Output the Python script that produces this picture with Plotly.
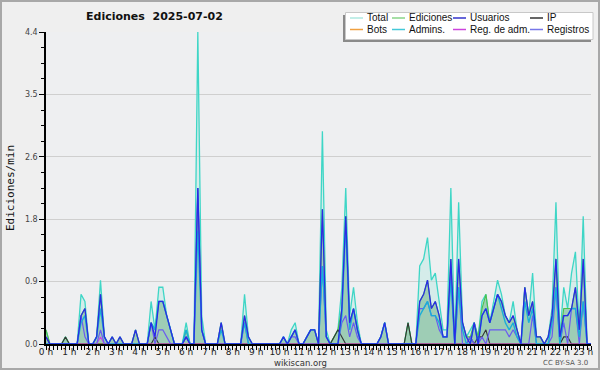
import plotly.graph_objects as go

# 10-minute buckets, values in edits/min
bucket_hours = [i / 6 for i in range(141)]

total = [0.2,0,0,0,0,0.1,0,0,0,0.7,0.6,0,
         0,0.1,0.9,0.1,0,0.1,0,0.1,0,0,0,0.2,
         0,0,0,0.6,0.2,0.8,0.8,0.4,0.2,0,0,0,
         0.3,0,0,4.4,0.4,0,0,0,0,0.3,0,0,
         0,0,0,0.7,0.1,0,0,0,0,0,0,0,
         0,0.1,0,0.2,0.3,0,0,0.1,0.2,0.2,0,3.0,
         0.2,0,0.1,0.2,0.8,2.2,0.4,0.8,0.3,0,0,0,
         0,0,0.1,0.3,0,0,0,0,0,0.3,0,0,
         1.1,1.2,1.5,0.9,1.0,0.6,0.2,0.2,2.2,0,2.0,0.3,
         0.1,0.2,0.3,0.1,0.6,0.7,0.3,0.6,0.9,0.7,0.4,0.3,
         0.6,0.2,0,0.8,0.4,1.0,0.1,0.1,0,0.1,0.5,2.0,
         0.1,0.8,0.5,1.0,1.3,0.2,1.8,0,0]

ediciones = [0.2,0,0,0,0,0.1,0,0,0,0.4,0.5,0,
             0,0.1,0.7,0.1,0,0.1,0,0.1,0,0,0,0.2,
             0,0,0,0.3,0.2,0.6,0.6,0.4,0.2,0,0,0,
             0.2,0,0,2.2,0.2,0,0,0,0,0.3,0,0,
             0,0,0,0.4,0.1,0,0,0,0,0,0,0,
             0,0.1,0,0.1,0.2,0,0,0.1,0.2,0.2,0,1.9,
             0.1,0,0.1,0.2,0.5,1.8,0.3,0.5,0.2,0,0,0,
             0,0,0.1,0.3,0,0,0,0,0,0.3,0,0,
             0.6,0.7,0.9,0.5,0.6,0.4,0.1,0.1,1.2,0,1.2,0.3,
             0.1,0.1,0.3,0.1,0.5,0.7,0.3,0.5,0.7,0.6,0.4,0.3,
             0.4,0.2,0,0.8,0.4,0.6,0.1,0.1,0,0.1,0.4,1.2,
             0.1,0.5,0.5,0.5,0.8,0.2,1.2,0,0]

usuarios = [0.1,0,0,0,0,0,0,0,0,0.4,0.5,0,
            0,0.1,0.7,0.1,0,0.1,0,0.1,0,0,0,0.2,
            0,0,0,0.3,0.1,0.6,0.6,0.4,0.2,0,0,0,
            0.1,0,0,2.2,0.2,0,0,0,0,0.3,0,0,
            0,0,0,0.4,0.1,0,0,0,0,0,0,0,
            0,0.1,0,0.1,0.2,0,0,0.1,0.2,0.2,0,1.9,
            0.1,0,0,0,0.5,1.8,0.3,0.5,0.2,0,0,0,
            0,0,0.1,0.3,0,0,0,0,0,0,0,0,
            0.6,0.7,0.9,0.5,0.6,0.4,0.1,0.1,1.2,0,1.2,0.3,
            0.1,0,0.3,0,0.4,0.5,0.3,0.5,0.7,0.6,0.4,0.3,
            0.4,0.2,0,0.8,0.4,0.6,0.1,0.1,0,0.1,0.4,1.2,
            0.1,0.4,0.4,0.5,0.8,0.2,1.2,0,0]

ip = [0.1,0,0,0,0,0.1,0,0,0,0,0,0,
      0,0,0,0,0,0,0,0,0,0,0,0,
      0,0,0,0,0.1,0,0,0,0,0,0,0,
      0.1,0,0,0,0,0,0,0,0,0,0,0,
      0,0,0,0,0,0,0,0,0,0,0,0,
      0,0,0,0,0,0,0,0,0,0,0,0,
      0,0,0.1,0.2,0.1,0,0,0,0,0,0,0,
      0,0,0,0,0,0,0,0,0,0.3,0,0,
      0,0,0,0,0,0,0,0,0,0,0,0,
      0,0.1,0,0.1,0.1,0.2,0,0,0,0,0,0,
      0,0,0,0,0,0,0,0,0,0,0,0,
      0,0.1,0.1,0,0,0,0,0,0]

bots = [0] * 141

admins = [0,0,0,0,0,0,0,0,0,0.3,0.4,0,
          0,0.1,0.5,0.1,0,0,0,0,0,0,0,0,
          0,0,0,0.3,0.2,0.6,0.6,0.4,0.2,0,0,0,
          0.2,0,0,1.6,0.2,0,0,0,0,0.2,0,0,
          0,0,0,0.3,0,0,0,0,0,0,0,0,
          0,0.1,0,0.1,0.2,0,0,0.1,0.2,0.2,0,1.1,
          0.1,0,0,0,0.4,1.7,0.2,0.5,0.2,0,0,0,
          0,0,0.1,0.3,0,0,0,0,0,0,0,0,
          0.4,0.5,0.6,0.4,0.4,0.3,0.1,0.1,0.9,0,0.8,0.2,
          0,0,0.3,0,0.4,0.5,0.3,0.5,0.7,0.5,0.3,0.2,
          0.3,0.1,0,0.6,0.3,0.5,0,0,0,0,0.3,0.8,
          0,0.4,0.4,0.5,0.5,0.1,0.6,0,0]

reg_adm = [0,0,0,0,0,0,0,0,0,0,0,0,
           0,0,0.1,0,0,0,0,0,0,0,0,0,
           0,0,0,0,0,0,0,0,0,0,0,0,
           0,0,0,0,0,0,0,0,0,0,0,0,
           0,0,0,0,0,0,0,0,0,0,0,0,
           0,0,0,0,0,0,0,0,0,0,0,0,
           0,0,0,0,0,0,0,0,0,0,0,0,
           0,0,0,0,0,0,0,0,0,0,0,0,
           0,0,0,0,0,0,0,0,0,0,0,0,
           0,0,0,0,0,0,0,0,0,0,0,0,
           0,0,0,0,0,0,0,0,0,0,0,0,
           0,0,0,0,0,0,0,0,0]

registros = [0,0,0,0,0,0,0,0,0,0.4,0.1,0,
             0,0,0.2,0,0,0,0,0,0,0,0,0,
             0,0,0,0.3,0,0.2,0.2,0.1,0,0,0,0,
             0.1,0,0,2.2,0.2,0,0,0,0,0,0,0,
             0,0,0,0.3,0,0,0,0,0,0,0,0,
             0,0,0,0.1,0.1,0,0,0,0,0,0,1.1,
             0.1,0,0,0,0.3,0.4,0.1,0.3,0.1,0,0,0,
             0,0,0,0,0,0,0,0,0,0,0,0,
             0.5,0.5,0.6,0.4,0.4,0.2,0.1,0.1,1.0,0,0.8,0,
             0,0.1,0,0,0.1,0,0.2,0.2,0.2,0.2,0.2,0.1,
             0.2,0.1,0,0,0,0.4,0,0,0,0,0.1,0.8,
             0,0.3,0,0.5,0.5,0,0.6,0,0]

hour_ticks = list(range(24))
hour_labels = [f"{h} h" for h in hour_ticks]
y_tickvals = [0, 0.88, 1.76, 2.64, 3.52, 4.4]
y_ticktext = ["0.0", "0.9", "1.8", "2.6", "3.5", "4.4"]

# ---- layout geometry (pixels) ----
W, H = 600, 370
L, R, T, B = 46, 591, 32, 344


def px(x):
    return (x - L) / (R - L)


def py(y):
    return (B - y) / (B - T)


fig = go.Figure()

fig.add_trace(go.Scatter(x=bucket_hours, y=total, mode="lines", fill="tozeroy",
                         fillcolor="rgba(175,232,224,0.4)",
                         line=dict(color="#3ed6c6", width=1.3)))
fig.add_trace(go.Scatter(x=bucket_hours, y=ediciones, mode="lines", fill="tozeroy",
                         fillcolor="rgba(125,186,148,0.62)",
                         line=dict(color="#4cc24c", width=1.1)))
fig.add_trace(go.Scatter(x=bucket_hours, y=bots, mode="lines",
                         line=dict(color="#f0a040", width=1.1)))
fig.add_trace(go.Scatter(x=bucket_hours, y=ip, mode="lines",
                         line=dict(color="#333333", width=1.1)))
fig.add_trace(go.Scatter(x=bucket_hours, y=reg_adm, mode="lines",
                         line=dict(color="#cc44dd", width=1.1)))
fig.add_trace(go.Scatter(x=bucket_hours, y=registros, mode="lines",
                         line=dict(color="#6a5cf0", width=1.2)))
fig.add_trace(go.Scatter(x=bucket_hours, y=admins, mode="lines",
                         line=dict(color="#1aaed8", width=1.4)))
fig.add_trace(go.Scatter(x=bucket_hours, y=usuarios, mode="lines",
                         line=dict(color="#2a2ae6", width=1.3)))

shapes = []
annotations = []

# outer frame
shapes.append(dict(type="rect", xref="paper", yref="paper",
                   x0=px(1), x1=px(W - 1), y0=py(H - 1), y1=py(1),
                   line=dict(color="#a8a8a8", width=2), fillcolor="rgba(0,0,0,0)",
                   layer="above"))

# legend box with shadow
shapes.append(dict(type="rect", xref="paper", yref="paper",
                   x0=px(343), x1=px(591), y0=py(42), y1=py(15),
                   line=dict(width=0), fillcolor="#8a8a8a", layer="above"))
shapes.append(dict(type="rect", xref="paper", yref="paper",
                   x0=px(345.5), x1=px(593), y0=py(39.5), y1=py(12.5),
                   line=dict(color="#c8c8c8", width=1), fillcolor="#ffffff", layer="above"))

legend_items = [
    ("Total", "#aee8e0", 350, 18), ("Ediciones", "#88d488", 392, 18),
    ("Usuarios", "#3333cc", 453, 18), ("IP", "#333333", 530, 18),
    ("Bots", "#f0a040", 350, 29.5), ("Admins.", "#44c8d8", 392, 29.5),
    ("Reg. de adm.", "#cc44dd", 453, 29.5), ("Registros", "#7777e8", 530, 29.5),
]
for name, col, x0, yy in legend_items:
    shapes.append(dict(type="line", xref="paper", yref="paper",
                       x0=px(x0), x1=px(x0 + 13), y0=py(yy), y1=py(yy),
                       line=dict(color=col, width=1.5), layer="above"))
    annotations.append(dict(text=name, xref="paper", yref="paper",
                            x=px(x0 + 14.5), y=py(yy), xanchor="left", yanchor="middle",
                            showarrow=False,
                            font=dict(family="Liberation Sans", size=10, color="#111")))

# title
annotations.append(dict(text="<b>Ediciones  2025-07-02</b>", xref="paper", yref="paper",
                        x=px(154), y=py(16.5), xanchor="center", yanchor="middle",
                        showarrow=False, font=dict(family="DejaVu Sans", size=11, color="#111")))
# y-axis title
annotations.append(dict(text="Ediciones/min", xref="paper", yref="paper",
                        x=px(10), y=py(188), xanchor="center", yanchor="middle", textangle=-90,
                        showarrow=False, font=dict(family="DejaVu Sans Mono", size=11, color="#111")))
# footer
annotations.append(dict(text="wikiscan.org", xref="paper", yref="paper",
                        x=px(300), y=py(362.5), xanchor="center", yanchor="middle",
                        showarrow=False, font=dict(family="DejaVu Sans", size=8.5, color="#333")))
annotations.append(dict(text="CC BY-SA 3.0", xref="paper", yref="paper",
                        x=px(590), y=py(363), xanchor="right", yanchor="middle",
                        showarrow=False, font=dict(family="DejaVu Sans", size=7, color="#555")))

fig.update_layout(
    width=W, height=H,
    margin=dict(l=L, r=W - R, t=T, b=H - B, pad=0),
    paper_bgcolor="#efefef", plot_bgcolor="#eeeff1",
    showlegend=False,
    shapes=shapes, annotations=annotations,
    xaxis=dict(range=[0, 140 / 6], tickmode="array", tickvals=hour_ticks, ticktext=hour_labels,
               tickangle=0, automargin=False, ticklabelstandoff=-6,
               ticks="outside", ticklen=4, tickwidth=1, tickcolor="#000",
               showline=True, linecolor="#000", linewidth=1.5, showgrid=False, zeroline=False,
               tickfont=dict(family="DejaVu Sans", size=9, color="#222"),
               minor=dict(dtick=1 / 6, tick0=0, ticks="outside", ticklen=4, tickcolor="#000",
                          showgrid=False)),
    yaxis=dict(range=[0, 4.4], tickmode="array", tickvals=y_tickvals, ticktext=y_ticktext,
               automargin=False,
               ticks="outside", ticklen=5, tickwidth=1, tickcolor="#000",
               showline=True, linecolor="#000", linewidth=1.5,
               showgrid=True, gridcolor="#cfcfcf", gridwidth=1, zeroline=False,
               tickfont=dict(family="DejaVu Sans", size=8, color="#444"),
               minor=dict(tickvals=[0.22, 0.44, 0.66, 1.1, 1.32, 1.54, 1.98, 2.2, 2.42,
                                    2.86, 3.08, 3.3, 3.74, 3.96, 4.18],
                          ticks="outside", ticklen=3, tickcolor="#000", showgrid=False)),
)

fig.write_html("out.html")
